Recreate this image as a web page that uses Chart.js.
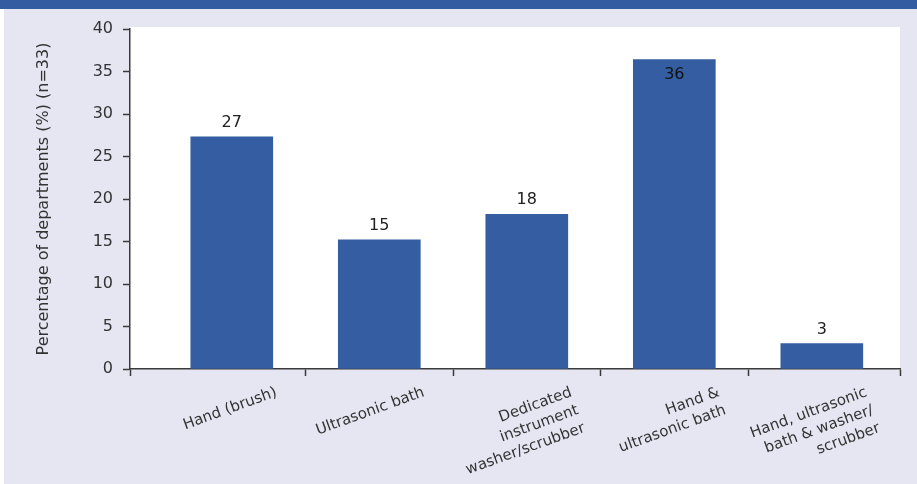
<!DOCTYPE html>
<html>
<head>
<meta charset="utf-8">
<script src="https://cdn.jsdelivr.net/npm/chart.js@4/dist/chart.umd.min.js"></script>
<style>
  body { margin: 0; background: #e5e6f2; }
  canvas { display: block; }
</style>
</head>
<body>
<canvas id="myChart" width="917" height="484"></canvas>
<script>
'use strict'
// chart data
var categories = [
    ['Hand (brush)'],
    ['Ultrasonic bath'],
    ['Dedicated', 'instrument', 'washer/scrubber'],
    ['Hand &', 'ultrasonic bath'],
    ['Hand, ultrasonic', 'bath & washer/', 'scrubber']
];
var percentages = [27.3, 15.2, 18.2, 36.4, 3.0];
var yTickValues = [0, 5, 10, 15, 20, 25, 30, 35, 40];
var yTitle = 'Percentage of departments (%) (n=33)';

var barColor = '#355da1';
var axisColor = '#3a3a3a';
var textColor = '#222222';
var fontName = '"DejaVu Sans", sans-serif';

// x range so first category has the extra room left of it like in the original
var xMin = -0.69;
var xMax = 4.53;

// background, top band and white plot area
var backgroundPlugin = {
    id: 'backgroundPlugin',
    beforeDraw: function (chart) {
        var ctx = chart.ctx;
        var area = chart.chartArea;
        ctx.save();
        ctx.fillStyle = '#e5e6f2';
        ctx.fillRect(0, 0, chart.width, chart.height);
        ctx.fillStyle = '#ffffff';
        ctx.fillRect(0, 0, 4, chart.height);
        ctx.fillStyle = '#345ca0';
        ctx.fillRect(0, 0, chart.width, 9);
        ctx.fillStyle = '#ffffff';
        ctx.fillRect(area.left, area.top - 2, area.right - area.left, area.bottom - area.top + 2);
        ctx.restore();
    }
};

// value labels and rotated category labels
var labelPlugin = {
    id: 'labelPlugin',
    afterDatasetsDraw: function (chart) {
        var ctx = chart.ctx;
        var meta = chart.getDatasetMeta(0);
        var xScale = chart.scales.x;
        ctx.save();
        ctx.font = '16px ' + fontName;
        ctx.textAlign = 'center';
        for (var i = 0; i < meta.data.length; i++) {
            var bar = meta.data[i];
            var txt = String(Math.round(percentages[i]));
            if (percentages[i] > 35) {
                ctx.fillStyle = '#111111';
                ctx.textBaseline = 'top';
                ctx.fillText(txt, bar.x, bar.y + 7);
            } else {
                ctx.fillStyle = textColor;
                ctx.textBaseline = 'bottom';
                ctx.fillText(txt, bar.x, bar.y - 6);
            }
        }

        ctx.font = '15px ' + fontName;
        ctx.fillStyle = '#333333';
        ctx.textAlign = 'right';
        ctx.textBaseline = 'top';
        var angle = -20 * Math.PI / 180;
        for (var j = 0; j < categories.length; j++) {
            var px = xScale.getPixelForValue(j) + 42;
            var py = xScale.top + 16;
            ctx.save();
            ctx.translate(px, py);
            ctx.rotate(angle);
            for (var k = 0; k < categories[j].length; k++) {
                ctx.fillText(categories[j][k], 0, k * 19);
            }
            ctx.restore();
        }
        ctx.restore();
    }
};

var ctx = document.getElementById('myChart').getContext('2d');
var chart = new Chart(ctx, {
    type: 'bar',
    data: {
        datasets: [{
            data: percentages.map(function (v, i) { return { x: i, y: v }; }),
            backgroundColor: barColor,
            borderWidth: 0,
            barThickness: 82
        }]
    },
    plugins: [backgroundPlugin, labelPlugin],
    options: {
        responsive: false,
        animation: false,
        layout: { padding: { left: 0, right: 17, top: 29, bottom: 0 } },
        plugins: {
            legend: { display: false },
            tooltip: { enabled: false }
        },
        scales: {
            x: {
                type: 'linear',
                min: xMin,
                max: xMax,
                offset: false,
                afterBuildTicks: function (scale) {
                    scale.ticks = [xMin, 0.5, 1.5, 2.5, 3.5, xMax].map(function (v) { return { value: v }; });
                },
                afterFit: function (scale) { scale.height = 115; },
                grid: {
                    display: true,
                    offset: false,
                    drawOnChartArea: false,
                    drawTicks: true,
                    tickLength: 7,
                    tickColor: axisColor,
                    tickWidth: 1.5
                },
                border: { display: true, color: axisColor, width: 1.5 },
                ticks: { display: false }
            },
            y: {
                min: 0,
                max: 40,
                afterBuildTicks: function (scale) {
                    scale.ticks = yTickValues.map(function (v) { return { value: v }; });
                },
                afterFit: function (scale) { scale.width = 130; },
                grid: {
                    drawOnChartArea: false,
                    drawTicks: true,
                    tickLength: 7,
                    tickColor: axisColor,
                    tickWidth: 1.5
                },
                border: { display: true, color: axisColor, width: 1.5 },
                ticks: {
                    color: '#333333',
                    padding: 10,
                    font: { family: fontName, size: 16 }
                },
                title: {
                    display: true,
                    text: yTitle,
                    color: '#333333',
                    padding: { top: 34, bottom: 0 },
                    font: { family: fontName, size: 16 }
                }
            }
        }
    }
});
</script>
</body>
</html>
